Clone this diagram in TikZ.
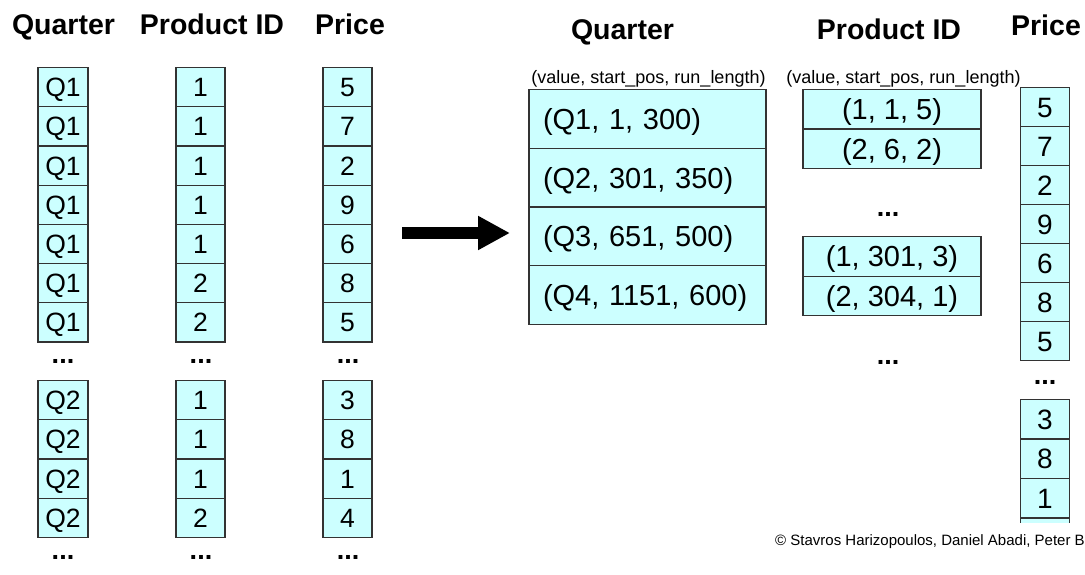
\documentclass[tikz,border=0pt]{standalone}
\usepackage{fontspec}
\setmainfont{Liberation Sans}
\usetikzlibrary{arrows.meta}
\definecolor{cellfill}{HTML}{CCFFFF}
\definecolor{edgecol}{HTML}{333333}
\begin{document}
\begin{tikzpicture}[x=1pt,y=-1pt,
  cell/.style={draw=edgecol,line width=1.2pt,fill=cellfill,inner sep=0pt,anchor=north,text height=19pt,text depth=0pt},
  lcell/.style={cell,minimum width=50pt,minimum height=39.2pt,font=\fontsize{26.5}{28}\selectfont},
  pcell/.style={cell,minimum width=49pt,minimum height=39.2pt,font=\fontsize{26.5}{28}\selectfont},
  qbig/.style={cell,minimum width=237pt,minimum height=58.75pt,text width=209pt,align=left,inner xsep=14pt,text height=21pt,font=\fontsize{29}{30}\selectfont},
  pid/.style={cell,minimum width=178pt,minimum height=39.5pt,text height=21pt,font=\fontsize{29}{30}\selectfont},
  rprice/.style={cell,minimum width=48.5pt,minimum height=39pt,text height=20pt,font=\fontsize{28}{30}\selectfont},
  hdr/.style={anchor=base,inner sep=0pt,font=\fontsize{28.5}{30}\selectfont\bfseries},
  sub/.style={anchor=base,inner sep=0pt,font=\fontsize{18}{20}\selectfont},
  dots/.style={anchor=base,inner sep=0pt,font=\fontsize{27}{28}\selectfont\bfseries},
  bigarrow/.style={line width=12pt,-{Triangle[length=32pt,width=32pt]}}
]
\useasboundingbox (0,0) rectangle (1085,575);

% ---------- left: headers ----------
\node[hdr] (hq) at (63.5,35) {Quarter};
\node[hdr] (hp) at (212,35) {Product ID};
\node[hdr] (hpr) at (350,35) {Price};

% ---------- left: upper block ----------
\foreach \v [count=\i] in {Q1,Q1,Q1,Q1,Q1,Q1,Q1}
  \node[lcell] (lq\i) at (63,{67+(\i-1)*39.2}) {\v};
\foreach \v [count=\i] in {1,1,1,1,1,2,2}
  \node[pcell] (lp\i) at (200.5,{67+(\i-1)*39.2}) {\v};
\foreach \v [count=\i] in {5,7,2,9,6,8,5}
  \node[pcell] (lr\i) at (347.5,{67+(\i-1)*39.2}) {\v};

\node[dots] (dq1) at (63,363.5) {...};
\node[dots] (dp1) at (201,363.5) {...};
\node[dots] (dr1) at (348,363.5) {...};

% ---------- left: lower block ----------
\foreach \v [count=\i] in {Q2,Q2,Q2,Q2}
  \node[lcell] (mq\i) at (63,{380+(\i-1)*39.2}) {\v};
\foreach \v [count=\i] in {1,1,1,2}
  \node[pcell] (mp\i) at (200.5,{380+(\i-1)*39.2}) {\v};
\foreach \v [count=\i] in {3,8,1,4}
  \node[pcell] (mr\i) at (347.5,{380+(\i-1)*39.2}) {\v};

\node[dots] (dq2) at (63,559) {...};
\node[dots] (dp2) at (201,559) {...};
\node[dots] (dr2) at (348,559) {...};

% ---------- arrow ----------
\coordinate (arrS) at (402,233);
\coordinate (arrE) at (510,233);
\draw[bigarrow] (arrS) -- (arrE);

% ---------- right: headers ----------
\node[hdr] (rhq) at (622.5,40) {Quarter};
\node[hdr] (rhp) at (889,39.5) {Product ID};
\node[hdr] (rhpr) at (1046,36) {Price};

\node[sub] (sq) at (648.5,83.5) {(value, start\_pos, run\_length)};
\node[sub] (sp) at (903.5,83.5) {(value, start\_pos, run\_length)};

% ---------- right: quarter RLE ----------
\foreach \v [count=\i] in {{(Q1, 1, 300)},{(Q2, 301, 350)},{(Q3, 651, 500)},{(Q4, 1151, 600)}}
  \node[qbig] (rq\i) at (647.5,{89+(\i-1)*58.75}) {\v};

% ---------- right: product id RLE ----------
\node[pid] (rp1) at (892,89) {(1, 1, 5)};
\node[pid] (rp2) at (892,128.5) {(2, 6, 2)};
\node[dots] (drp1) at (888,217) {...};
\node[pid] (rp3) at (892,236) {(1, 301, 3)};
\node[pid] (rp4) at (892,275.5) {(2, 304, 1)};
\node[dots] (drp2) at (888,364) {...};

% ---------- right: price ----------
\foreach \v [count=\i] in {5,7,2,9,6,8,5}
  \node[rprice] (rr\i) at (1045,{87+(\i-1)*39}) {\v};
\node[dots] (drr) at (1045,384) {...};
\foreach \v [count=\i] in {3,8,1}
  \node[rprice] (rs\i) at (1045,{399+(\i-1)*39.5}) {\v};
\begin{scope}
  \clip (1000,510) rectangle (1090,522.5);
  \node[rprice] (rs4) at (1045,{399+3*39.5}) {};
\end{scope}

% ---------- copyright ----------
\node[anchor=base west,inner sep=0pt,font=\fontsize{15}{16}\selectfont] (copy) at (775,545) {© Stavros Harizopoulos, Daniel Abadi, Peter B};
\end{tikzpicture}
\end{document}
